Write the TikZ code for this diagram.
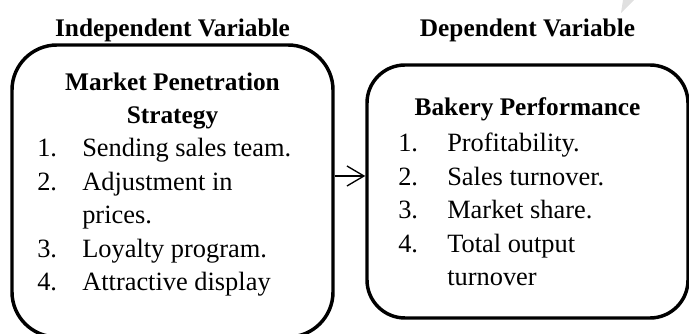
\documentclass[tikz,border=0pt]{standalone}
\usepackage{fontspec}
\setmainfont{Liberation Serif}
\usetikzlibrary{arrows.meta}

\tikzset{
  varbox/.style={draw=black, line width=2.6pt, rectangle, inner sep=0pt},
  head/.style={anchor=base, font=\fontsize{19}{23}\selectfont\bfseries, inner sep=0pt},
  title/.style={anchor=base, font=\fontsize{19}{23}\selectfont\bfseries, inner sep=0pt},
  item/.style={anchor=base west, font=\fontsize{19.8}{24}\selectfont, inner sep=0pt},
  link/.style={line width=1pt, -{Straight Barb[length=12.75pt,width=15pt,line width=1pt]}},
  faintstroke/.style={fill=black!12, draw=none}
}

\begin{document}
\begin{tikzpicture}[x=0.75pt, y=-0.75pt]
  \useasboundingbox (0,0) rectangle (689,334);

  % faint stroke in the upper right corner
  \fill[faintstroke] (623,0) -- (634,0) -- (621,13) -- cycle;

  % headings
  \node[head] (hind) at (172.5,37) {Independent Variable};
  \node[head] (hdep) at (527.5,37) {Dependent Variable};

  % the two boxes
  \node[varbox, rounded corners=33.75pt, minimum width=240.75pt, minimum height=219pt] (lbox) at (172.5,191) {};
  \node[varbox, rounded corners=28.5pt, minimum width=240.75pt, minimum height=189.75pt] (rbox) at (527.5,191.5) {};

  % left box: market penetration strategy
  \node[title] (lt1) at (172.5,91) {Market Penetration};
  \node[title] (lt2) at (172.5,124) {Strategy};
  \node[item] (ln1) at (37,157) {1.};
  \node[item] (li1) at (82,157) {Sending sales team.};
  \node[item] (ln2) at (37,190.5) {2.};
  \node[item] (li2) at (82,190.5) {Adjustment in};
  \node[item] (li2b) at (82,224) {prices.};
  \node[item] (ln3) at (37,257.5) {3.};
  \node[item] (li3) at (82,257.5) {Loyalty program.};
  \node[item] (ln4) at (37,291) {4.};
  \node[item] (li4) at (82,291) {Attractive display};

  % right box: bakery performance
  \node[title] (rt1) at (527.5,116) {Bakery Performance};
  \node[item] (rn1) at (398,152) {1.};
  \node[item] (ri1) at (447,152) {Profitability.};
  \node[item] (rn2) at (398,185.5) {2.};
  \node[item] (ri2) at (447,185.5) {Sales turnover.};
  \node[item] (rn3) at (398,219) {3.};
  \node[item] (ri3) at (447,219) {Market share.};
  \node[item] (rn4) at (398,252.5) {4.};
  \node[item] (ri4) at (447,252.5) {Total output};
  \node[item] (ri4b) at (447,286) {turnover};

  % connector between the boxes
  \coordinate (arrstart) at ([yshift=11.25pt]lbox.east);
  \draw[link] (arrstart) -- (rbox.west |- arrstart);
\end{tikzpicture}
\end{document}
